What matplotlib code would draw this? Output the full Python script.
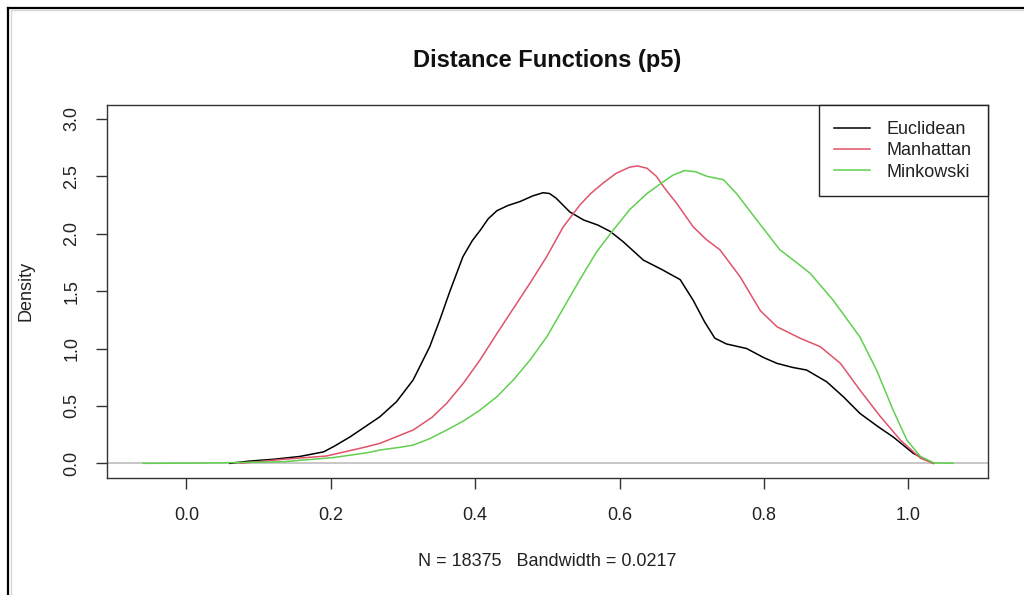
"""Density curves of three distance functions, drawn like R's plot(density())."""

import matplotlib

matplotlib.use("Agg")
import matplotlib.pyplot as plt
from matplotlib.lines import Line2D

plt.rcParams["font.family"] = ["Liberation Sans", "DejaVu Sans"]

# values
euclid_x = [0.060, 0.088, 0.120, 0.157, 0.190, 0.205, 0.2265, 0.268, 0.291, 0.314,
            0.337, 0.351, 0.365, 0.383, 0.396, 0.407, 0.418, 0.430, 0.445, 0.462,
            0.480, 0.494, 0.503, 0.512, 0.531, 0.550, 0.570, 0.587, 0.605, 0.633,
            0.658, 0.684, 0.702, 0.718, 0.732, 0.748, 0.776, 0.800, 0.818, 0.840,
            0.859, 0.887, 0.910, 0.933, 0.958, 0.979, 1.007, 1.035]
euclid_y = [0.000, 0.020, 0.035, 0.060, 0.100, 0.150, 0.230, 0.406, 0.537, 0.726,
            1.016, 1.250, 1.500, 1.800, 1.940, 2.030, 2.130, 2.200, 2.245, 2.280,
            2.330, 2.357, 2.350, 2.310, 2.190, 2.120, 2.075, 2.020, 1.930, 1.770,
            1.690, 1.600, 1.420, 1.230, 1.090, 1.040, 1.000, 0.920, 0.871, 0.835,
            0.813, 0.710, 0.580, 0.435, 0.320, 0.230, 0.087, 0.000]

manhattan_x = [0.074, 0.134, 0.194, 0.250, 0.268, 0.296, 0.314, 0.340, 0.3605, 0.3835,
               0.4066, 0.430, 0.476, 0.499, 0.522, 0.545, 0.560, 0.577, 0.595, 0.614,
               0.625, 0.638, 0.651, 0.662, 0.679, 0.702, 0.720, 0.739, 0.767, 0.795,
               0.818, 0.850, 0.878, 0.906, 0.933, 0.961, 0.989, 1.017, 1.035]
manhattan_y = [0.000, 0.035, 0.064, 0.145, 0.174, 0.245, 0.290, 0.400, 0.523, 0.697,
               0.900, 1.130, 1.570, 1.800, 2.060, 2.250, 2.350, 2.440, 2.525, 2.580,
               2.590, 2.570, 2.500, 2.400, 2.265, 2.060, 1.950, 1.860, 1.625, 1.330,
               1.190, 1.090, 1.016, 0.871, 0.638, 0.410, 0.203, 0.044, 0.000]

minkowski_x = [-0.060, 0.019, 0.134, 0.203, 0.250, 0.268, 0.296, 0.314, 0.337, 0.3605,
               0.384, 0.4066, 0.430, 0.4528, 0.476, 0.499, 0.522, 0.545, 0.568, 0.591,
               0.614, 0.638, 0.660, 0.674, 0.690, 0.705, 0.721, 0.744, 0.762, 0.790,
               0.822, 0.845, 0.864, 0.896, 0.933, 0.956, 0.979, 0.998, 1.017, 1.035,
               1.062]
minkowski_y = [0.000, 0.002, 0.014, 0.050, 0.092, 0.116, 0.140, 0.159, 0.215, 0.290,
               0.370, 0.464, 0.580, 0.726, 0.900, 1.100, 1.350, 1.600, 1.840, 2.030,
               2.210, 2.350, 2.450, 2.510, 2.550, 2.540, 2.500, 2.470, 2.350, 2.120,
               1.860, 1.750, 1.655, 1.420, 1.100, 0.813, 0.464, 0.203, 0.058, 0.005,
               0.000]

series_names = ["Euclidean", "Manhattan", "Minkowski"]
series_colors = ["black", "#DF536B", "#61D04F"]

x_ticks = [0.0, 0.2, 0.4, 0.6, 0.8, 1.0]
y_ticks = [0.0, 0.5, 1.0, 1.5, 2.0, 2.5, 3.0]

W, H = 1024, 595
fig = plt.figure(figsize=(W / 100, H / 100), dpi=100)
ax = fig.add_axes([107 / W, 1 - 477.7 / H, (987.7 - 107) / W, (477.7 - 105) / H])

ax.axhline(0, color="#BEBEBE", lw=1.2, zorder=1)
curves = [(euclid_x, euclid_y), (manhattan_x, manhattan_y), (minkowski_x, minkowski_y)]
for (xs, ys), name, col in zip(curves, series_names, series_colors):
    ax.plot(xs, ys, color=col, lw=1.1, label=name, zorder=2)

ax.set_xlim(-0.1101, 1.110)
ax.set_ylim(-0.125, 3.121)
ax.set_xticks(x_ticks)
ax.set_xticklabels([f"{v:.1f}" for v in x_ticks])
ax.set_yticks(y_ticks)
ax.set_yticklabels([f"{v:.1f}" for v in y_ticks], rotation=90, va="center")
ax.tick_params(axis="both", direction="out", length=8, width=1, colors="#333333",
               labelcolor="#222222", labelsize=13)
ax.tick_params(axis="x", pad=13)
ax.tick_params(axis="y", pad=11)
for sp in ax.spines.values():
    sp.set_color("#333333")
    sp.set_linewidth(1)

leg = ax.legend(loc="upper right", borderaxespad=0, fancybox=False, framealpha=1,
                edgecolor="#222222", fontsize=13, handlelength=1.95, handletextpad=0.95,
                labelspacing=0.24, borderpad=0.88)
leg.get_frame().set_linewidth(1)
for t in leg.get_texts():
    t.set_color("#222222")

fig.text(547 / W, 1 - 60 / H, "Distance Functions (p5)", ha="center", va="center",
         fontsize=17, fontweight="bold", color="#111111")
fig.text(26 / W, 1 - 291 / H, "Density", rotation=90, ha="center", va="center",
         fontsize=13, color="#222222")
fig.text(547 / W, 1 - 561 / H, "N = 18375   Bandwidth = 0.0217", ha="center",
         va="center", fontsize=13, color="#222222")

# outer frame of the screenshot (left and top edges)
fig.add_artist(Line2D([7.5 / W, 7.5 / W], [0, 1 - 7.5 / H], color="black", lw=1.6))
fig.add_artist(Line2D([7.5 / W, 1], [1 - 7.5 / H, 1 - 7.5 / H], color="black", lw=1.6))
fig.add_artist(Line2D([10.5 / W, 10.5 / W], [0, 1 - 10 / H], color="#D8D8D8", lw=1))
fig.add_artist(Line2D([10.5 / W, 1], [1 - 10 / H, 1 - 10 / H], color="#D8D8D8", lw=1))

fig.savefig("out.png", dpi=100)
